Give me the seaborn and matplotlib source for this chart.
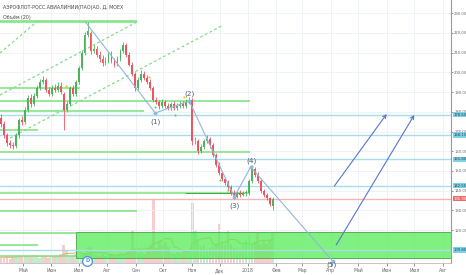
import numpy as np
import pandas as pd
import matplotlib
matplotlib.use('Agg')
import matplotlib.pyplot as plt
import matplotlib.dates as mdates
from matplotlib.transforms import blended_transform_factory
from matplotlib.patches import Rectangle
import seaborn as sns

# ---------------- data ----------------
title = "АЭРОФЛОТ-РОСС.АВИАЛИНИИ(ПАО)АО, Д, MOEX"
subtitle = "Объём (20)"
dates = pd.date_range('2017-04-07', '2018-01-28', periods=92)

opens = [177,174,168,164,163,162.5,168,176,175,181,
         187,184,188,192,195,196,191,189,192,191,
         193,189,181,184,192,189,195,202,210,219,
         220,211,212,209,207,205,206,209,206,204,
         207,211,214,209,204,199,192,196,199,197,
         195,192,186,185,183,185,183,182,184,182,
         183,184,183,185,186,165,165,160,162,165,
         166,163,158,153,149,146,144,142,139,137,
         139,138,139,139,145,151,148,145,140,138,
         136,132]
closes = [174,168,164,163,162.5,168,176,175,181,187,
          184,188,192,195,196,191,189,192,191,193,
          190,181,184,192,189,195,202,210,219,221,
          211,212,209,207,205,206,209,206,204,207,
          211,214,209,204,199,192,196,199,197,195,
          192,186,185,183,185,183,182,184,182,183,
          184,183,185,186,165,165,160,162,165,166,
          163,158,153,149,146,144,142,139,137,139,
          138,139,139,145,151,148,145,140,138,136,
          133,135.9]
highs = [179,175.5,169,165.5,164.5,169,177,178,182.5,188.5,
         189,189.5,193.5,196.5,198,197,192.5,193.5,194,195,
         195,190,185.5,193,193.5,196,203,211.5,220.5,225.5,
         221,214,213.5,211,209,208,210.5,211,207.5,208.5,
         212,215.5,215,210.5,205.5,200,197.5,201,200.5,198.5,
         196.5,193,187.5,186,186.5,186,184.5,185,185.5,184.5,
         185.5,185.5,186.5,187.5,187,167,166,163.5,166,168,
         167,164,159,154.5,150,147,145.5,143,140.5,140,
         140.5,140,140.5,146,153,152,149.5,146,141,139,
         137,136.5]
lows = [172.5,166.5,162.5,161.5,161,161.5,166.5,173.5,174,180,
        182.5,183,187,191,194,190,188,188,190,190,
        189,171,180,183,188,188,194,201,209,218,
        209.5,210,208,205.5,203.5,204,205,205,202.5,203,
        206,210,208,203,198,190.5,191,195,196,194,
        191,185,184,181.5,182,182,181,181,181,181,
        182,182,182,184,163,163.5,158.5,159,161,164,
        161.5,157,152,148,145,143,141,138,136,136,
        137,137.5,137.5,138,144,147,144,139,137,135,
        132,130]
volumes = [2.0,1.8,2.2,1.5,2.5,2.0,2.8,2.2,1.9,2.4,
           2.1,2.6,2.3,1.8,2.0,2.2,1.7,2.4,2.1,2.6,
           3.0,6.0,4.5,2.2,2.5,3.0,2.4,2.8,3.2,5.0,
           5.2,3.0,2.6,2.4,2.9,2.2,2.6,3.1,2.5,2.8,
           3.4,2.9,3.6,4.2,11.0,4.0,3.2,3.6,3.0,4.4,
           6.0,21.0,5.0,7.5,6.0,7.0,5.5,3.5,3.0,3.6,
           3.2,4.0,4.5,3.8,20.0,11.0,7.0,5.5,6.0,4.8,
           5.0,5.5,6.5,13.0,7.0,6.0,11.0,6.5,5.0,5.5,
           4.8,6.0,7.5,9.0,6.5,7.0,10.0,6.0,7.5,6.5,
           8.0,10.0]

blue_levels = [178.6, 168.15, 155.8, 142.55, 109.85]
blue_labels = ['178.60', '168.15', '155.80', '142.55', '109.85']
current_price = 135.9
green_levels = [226.3, 225.4, 192.1, 185.5, 180.4, 170.8, 159.6, 138.8, 129.8, 118.5, 112.6, 106.8]
green_ends = ['2017-09-02', '2017-09-02', '2017-07-02', '2018-01-03', '2017-09-10', '2017-05-17',
              '2018-01-03', '2018-01-03', '2017-09-02', '2017-06-28', '2017-05-17', '2017-06-28']

zone_start, zone_low, zone_high = '2017-06-28', 105.8, 119.0

wave_dates = ['2017-07-08', '2017-09-22', '2017-10-29', '2017-12-17', '2018-01-04', '2018-04-03']
wave_prices = [225.6, 179.4, 185.5, 136.8, 152.0, 104.3]
wave_labels = ['(1)', '(2)', '(3)', '(4)', '(5)']
wave_label_dates = ['2017-09-22', '2017-10-29', '2017-12-17', '2018-01-05', '2018-04-02']
wave_label_prices = [174.8, 189.2, 132.2, 155.2, 102.2]

arrow_starts = [('2018-04-05', 142.3), ('2018-04-07', 112.4)]
arrow_ends = [('2018-06-01', 178.9), ('2018-07-01', 178.4)]

dash_lines = [(('2017-04-17', 166.7), ('2017-12-03', 223.5)),
              (('2017-04-06', 188.5), ('2017-09-02', 225.6)),
              (('2017-04-06', 209.85), ('2017-05-17', 226.1))]

yellow_dates = ['2017-06-17', '2017-09-15', '2017-10-23', '2018-01-05']
yellow_prices = [193.0, 197.7, 187.5, 152.5]
gdot_dates = ['2017-09-22', '2017-10-14', '2017-12-01', '2017-12-10']
gdot_prices = [182.4, 178.4, 145.4, 140.3]

month_ticks = pd.date_range('2017-05-01', '2018-08-01', freq='MS')
month_labels = ['Май', 'Июн', 'Июл', 'Авг', 'Сен', 'Окт', 'Ноя', 'Дек',
                '2018', 'Фев', 'Мар', 'Апр', 'Май', 'Июн', 'Июл', 'Авг']
price_ticks = list(range(120, 240, 10))

# ---------------- styling ----------------
sns.set_theme(style='white')
plt.rcParams['font.family'] = ['DejaVu Sans']

UP = '#4cb35c'
DN = '#ee5560'
AX_FS = 2.7

def dn(s):
    return mdates.date2num(pd.Timestamp(s))

W, H = 466, 275
fig = plt.figure(figsize=(W / 100, H / 100), dpi=100)
ax = fig.add_axes([0, 12 / H, 451 / W, 263 / H])
ax2 = ax.twinx()
ax.set_zorder(ax2.get_zorder() + 1)
ax.patch.set_visible(False)

x = mdates.date2num(dates)
o = np.array(opens); c = np.array(closes); hi = np.array(highs); lo = np.array(lows)
up = c >= o
cols = np.where(up, UP, DN)

# volume
vcols = [(0.30, 0.70, 0.36, 0.30) if u else (0.93, 0.33, 0.38, 0.30) for u in up]
ax2.bar(x, volumes, width=3.0, color=vcols, linewidth=0)
vma = pd.Series(volumes).rolling(7, min_periods=1).mean()
sns.lineplot(x=x, y=vma.values, ax=ax2, color='#f2a766', lw=0.7)
ax2.set_ylim(0, 88)
ax2.set_yticks([])
for s in ax2.spines.values():
    s.set_visible(False)

# grid
for m in month_ticks:
    ax.axvline(mdates.date2num(m), color='#edf1f6', lw=0.6, zorder=0)
for p in price_ticks:
    ax.axhline(p, color='#edf1f6', lw=0.6, zorder=0)

# zone rectangle
z0 = dn(zone_start)
ax.add_patch(Rectangle((z0, zone_low), dn('2018-08-20') - z0, zone_high - zone_low,
                       facecolor='#5cec5c', alpha=0.78, edgecolor='#3c9c3c', lw=0.7, zorder=1))

# horizontal levels
for lv in blue_levels:
    ax.axhline(lv, color='#a8dcec', lw=1.0, zorder=1.2)
ax.axhline(current_price, color='#f6b4b4', lw=1.0, zorder=1.2)
x0 = dn('2017-04-01')
for lv, e in zip(green_levels, green_ends):
    ax.hlines(lv, x0, dn(e), color='#86e486', lw=1.2, zorder=1.3)
ax.hlines(138.9, dn('2017-10-24'), dn('2017-12-28'), color='#3faa48', lw=0.7, zorder=1.4)

# dashed channel lines
for (a, b) in dash_lines:
    ax.plot([dn(a[0]), dn(b[0])], [a[1], b[1]], color='#80de80', lw=0.9,
            linestyle=(0, (2.2, 2.0)), zorder=1.5)

# candles
ax.vlines(x, lo, hi, colors=cols, lw=0.6, zorder=3)
body_lo = np.minimum(o, c)
body_h = np.maximum(np.abs(c - o), 0.4)
ax.bar(x, body_h, bottom=body_lo, width=2.0, color=cols, linewidth=0, zorder=3.2)

# pivot dots
ax.scatter([dn(d) for d in yellow_dates], yellow_prices, s=2.5, color='#f5c518', zorder=4, linewidths=0)
ax.scatter([dn(d) for d in gdot_dates], gdot_prices, s=2.5, color='#7acc3c', zorder=4, linewidths=0)

# wave
sns.lineplot(x=[dn(d) for d in wave_dates], y=wave_prices, ax=ax, color='#92b6dc',
             lw=0.8, sort=False, zorder=5)
ax.scatter([dn(d) for d in wave_dates[1:]], wave_prices[1:], s=3, color='#92b6dc', zorder=5)
for lab, d, p in zip(wave_labels, wave_label_dates, wave_label_prices):
    ax.text(dn(d), p, lab, fontsize=5.2, color='#4d5d73', ha='center', va='center',
            zorder=6, clip_on=False)

# arrows
for s, e in zip(arrow_starts, arrow_ends):
    ax.annotate('', xy=(dn(e[0]), e[1]), xytext=(dn(s[0]), s[1]),
                arrowprops=dict(arrowstyle='->', color='#5677cc', lw=0.8,
                                mutation_scale=6, shrinkA=0, shrinkB=0), zorder=6)

# dividend marker
ax.plot([dn('2017-07-10')], [104.3], marker='o', ms=7, mfc='white', mec='#4a8fe0',
        mew=0.9, zorder=7, clip_on=False)
ax.text(dn('2017-07-10'), 104.3, 'D', fontsize=3.6, color='#4a8fe0', ha='center',
        va='center', fontweight='bold', zorder=8, clip_on=False)

# axes limits and ticks
ax.set_xlim(dn('2017-04-06'), dn('2018-08-10'))
ax.set_ylim(103.25, 236.75)
ax.yaxis.tick_right()
ax.set_yticks(price_ticks)
ax.set_yticklabels([f'{p:.2f}' for p in price_ticks])
ax.set_xticks([mdates.date2num(m) for m in month_ticks])
ax.set_xticklabels(month_labels)
ax.tick_params(axis='y', labelsize=AX_FS, colors='#666666', length=1.5, width=0.5, pad=0.8, right=True)
ax.tick_params(axis='x', labelsize=3.3, colors='#666666', length=2, width=0.5, pad=1.5, bottom=True)
for k in ['top', 'left']:
    ax.spines[k].set_visible(False)
ax.spines['right'].set_color('#9a9a9a'); ax.spines['right'].set_linewidth(0.8)
ax.spines['bottom'].set_color('#bbbbbb'); ax.spines['bottom'].set_linewidth(0.6)

# boxed price labels
tr = blended_transform_factory(ax.transAxes, ax.transData)
for lv, lab in zip(blue_levels, blue_labels):
    ax.text(1.0055, lv, lab, transform=tr, fontsize=AX_FS, color='#1d3f50', ha='left', va='center',
            bbox=dict(boxstyle='square,pad=0.2', fc='#7dd2e6', ec='none'), zorder=20, clip_on=False)
ax.text(1.0055, current_price, f'{current_price:.2f}', transform=tr, fontsize=AX_FS, color='white',
        ha='left', va='center', bbox=dict(boxstyle='square,pad=0.2', fc='#f06a6a', ec='none'),
        zorder=20, clip_on=False)

# titles
fig.text(3 / W, 1 - 7 / H, title, fontsize=3.4, color='#444444', va='center', ha='left')
fig.text(3 / W, 1 - 18 / H, subtitle, fontsize=3.4, color='#444444', va='center', ha='left')

fig.savefig('out.png', dpi=100)
